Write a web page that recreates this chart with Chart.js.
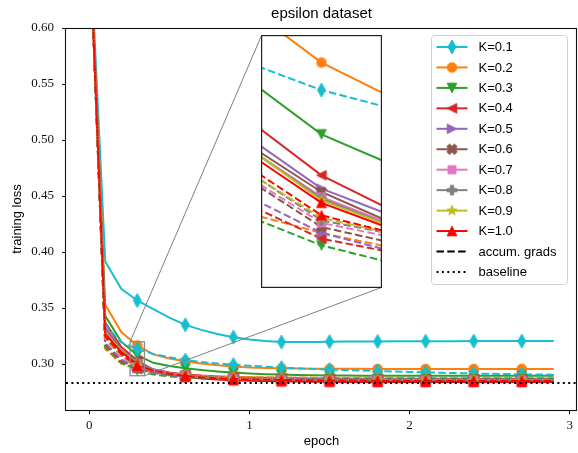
<!DOCTYPE html>
<html>
<head>
    <title>epsilon dataset</title>
    <meta charset="UTF-8">
    <style>
        body { margin: 0; background: #fff; }
        #wrap { position: relative; width: 578px; height: 453px; }
        #main { position: absolute; left: 0; top: 0; }
        #inset { position: absolute; }
    </style>
    <script src="https://cdn.jsdelivr.net/npm/chart.js@4.4.0/dist/chart.umd.min.js"></script>
</head>
<body>
    <div id="wrap">
        <canvas id="main" width="578" height="453"></canvas>
        <canvas id="inset"></canvas>
    </div>

    <script>
        // epochs at which the training loss was logged
        const epochs = [0, 0.1, 0.2, 0.3, 0.4, 0.5, 0.6, 0.7, 0.8, 0.9, 1.0, 1.1, 1.2, 1.3, 1.4,
                        1.5, 1.6, 1.7, 1.8, 1.9, 2.0, 2.1, 2.2, 2.3, 2.4, 2.5, 2.6, 2.7, 2.8, 2.9];

        const kLabels = ['K=0.1', 'K=0.2', 'K=0.3', 'K=0.4', 'K=0.5', 'K=0.6', 'K=0.7', 'K=0.8', 'K=0.9', 'K=1.0'];

        // top-K sparsified updates
        const lossK01 = [0.693, 0.3916, 0.3672, 0.3568, 0.3490, 0.3415, 0.3350, 0.3305, 0.3268, 0.3240, 0.3220, 0.3205, 0.3197, 0.3196, 0.3198, 0.3200, 0.3201, 0.3202, 0.3202, 0.3203, 0.3203, 0.3204, 0.3204, 0.3204, 0.3205, 0.3205, 0.3205, 0.3205, 0.3206, 0.3206];
        const lossK02 = [0.693, 0.3530, 0.3286, 0.3166, 0.3086, 0.3050, 0.3025, 0.3005, 0.2990, 0.2978, 0.2970, 0.2965, 0.2962, 0.2960, 0.2959, 0.2958, 0.2958, 0.2958, 0.2957, 0.2957, 0.2957, 0.2957, 0.2957, 0.2957, 0.2957, 0.2957, 0.2957, 0.2957, 0.2957, 0.2957];
        const lossK03 = [0.693, 0.3430, 0.3200, 0.3080, 0.3011, 0.2983, 0.2963, 0.2947, 0.2934, 0.2924, 0.2916, 0.2910, 0.2906, 0.2903, 0.2900, 0.2898, 0.2897, 0.2896, 0.2896, 0.2895, 0.2895, 0.2895, 0.2895, 0.2895, 0.2895, 0.2895, 0.2895, 0.2895, 0.2895, 0.2895];
        const lossK04 = [0.693, 0.3370, 0.3153, 0.3031, 0.2951, 0.2925, 0.2908, 0.2897, 0.2890, 0.2885, 0.2881, 0.2878, 0.2876, 0.2874, 0.2872, 0.2871, 0.2870, 0.2870, 0.2869, 0.2869, 0.2869, 0.2869, 0.2868, 0.2868, 0.2868, 0.2868, 0.2868, 0.2868, 0.2868, 0.2868];
        const lossK05 = [0.693, 0.3330, 0.3128, 0.3015, 0.2953, 0.2920, 0.2902, 0.2890, 0.2882, 0.2877, 0.2873, 0.2870, 0.2868, 0.2866, 0.2865, 0.2864, 0.2863, 0.2863, 0.2862, 0.2862, 0.2862, 0.2862, 0.2862, 0.2861, 0.2861, 0.2861, 0.2861, 0.2861, 0.2861, 0.2861];
        const lossK06 = [0.693, 0.3310, 0.3115, 0.3011, 0.2940, 0.2912, 0.2896, 0.2885, 0.2877, 0.2872, 0.2868, 0.2865, 0.2863, 0.2861, 0.2860, 0.2859, 0.2859, 0.2858, 0.2858, 0.2858, 0.2858, 0.2857, 0.2857, 0.2857, 0.2857, 0.2857, 0.2857, 0.2857, 0.2857, 0.2857];
        const lossK07 = [0.693, 0.3300, 0.3112, 0.3005, 0.2942, 0.2910, 0.2893, 0.2881, 0.2873, 0.2868, 0.2864, 0.2861, 0.2859, 0.2857, 0.2856, 0.2855, 0.2854, 0.2854, 0.2853, 0.2853, 0.2853, 0.2853, 0.2853, 0.2852, 0.2852, 0.2852, 0.2852, 0.2852, 0.2852, 0.2852];
        const lossK08 = [0.693, 0.3290, 0.3114, 0.3003, 0.2940, 0.2907, 0.2890, 0.2878, 0.2870, 0.2865, 0.2861, 0.2858, 0.2856, 0.2854, 0.2853, 0.2852, 0.2851, 0.2851, 0.2850, 0.2850, 0.2850, 0.2850, 0.2850, 0.2849, 0.2849, 0.2849, 0.2849, 0.2849, 0.2849, 0.2849];
        const lossK09 = [0.693, 0.3280, 0.3117, 0.3001, 0.2941, 0.2905, 0.2887, 0.2875, 0.2867, 0.2862, 0.2858, 0.2855, 0.2853, 0.2851, 0.2850, 0.2849, 0.2848, 0.2848, 0.2847, 0.2847, 0.2847, 0.2847, 0.2847, 0.2846, 0.2846, 0.2846, 0.2846, 0.2846, 0.2846, 0.2846];
        const lossK10 = [0.693, 0.3270, 0.3107, 0.2998, 0.2938, 0.2903, 0.2886, 0.2872, 0.2862, 0.2856, 0.2852, 0.2849, 0.2846, 0.2844, 0.2843, 0.2842, 0.2841, 0.2841, 0.2840, 0.2840, 0.2840, 0.2840, 0.2840, 0.2840, 0.2840, 0.2840, 0.2840, 0.2840, 0.2840, 0.2840];

        // same runs with accumulated gradients
        const accumK01 = [0.693, 0.3350, 0.3193, 0.3133, 0.3091, 0.3060, 0.3035, 0.3018, 0.3005, 0.2995, 0.2985, 0.2976, 0.2968, 0.2962, 0.2956, 0.2951, 0.2946, 0.2942, 0.2938, 0.2934, 0.2930, 0.2926, 0.2922, 0.2919, 0.2916, 0.2913, 0.2911, 0.2909, 0.2907, 0.2905];
        const accumK02 = [0.693, 0.3135, 0.3005, 0.2962, 0.2928, 0.2910, 0.2900, 0.2893, 0.2889, 0.2886, 0.2884, 0.2882, 0.2881, 0.2880, 0.2879, 0.2878, 0.2878, 0.2877, 0.2877, 0.2877, 0.2876, 0.2876, 0.2876, 0.2876, 0.2876, 0.2876, 0.2876, 0.2876, 0.2876, 0.2876];
        const accumK03 = [0.693, 0.3150, 0.3011, 0.2947, 0.2907, 0.2890, 0.2881, 0.2876, 0.2873, 0.2871, 0.2870, 0.2869, 0.2868, 0.2868, 0.2867, 0.2867, 0.2867, 0.2867, 0.2866, 0.2866, 0.2866, 0.2866, 0.2866, 0.2866, 0.2866, 0.2866, 0.2866, 0.2866, 0.2866, 0.2866];
        const accumK04 = [0.693, 0.3175, 0.3030, 0.2955, 0.2924, 0.2905, 0.2893, 0.2884, 0.2878, 0.2873, 0.2870, 0.2867, 0.2865, 0.2864, 0.2863, 0.2862, 0.2862, 0.2861, 0.2861, 0.2861, 0.2861, 0.2861, 0.2861, 0.2861, 0.2861, 0.2861, 0.2861, 0.2861, 0.2861, 0.2861];
        const accumK05 = [0.693, 0.3190, 0.3042, 0.2962, 0.2920, 0.2900, 0.2888, 0.2880, 0.2874, 0.2870, 0.2867, 0.2865, 0.2863, 0.2862, 0.2861, 0.2860, 0.2860, 0.2859, 0.2859, 0.2859, 0.2859, 0.2859, 0.2859, 0.2859, 0.2859, 0.2859, 0.2859, 0.2859, 0.2859, 0.2859];
        const accumK06 = [0.693, 0.3225, 0.3073, 0.2969, 0.2933, 0.2910, 0.2895, 0.2884, 0.2876, 0.2871, 0.2867, 0.2864, 0.2862, 0.2861, 0.2860, 0.2859, 0.2859, 0.2858, 0.2858, 0.2858, 0.2858, 0.2858, 0.2858, 0.2858, 0.2858, 0.2858, 0.2858, 0.2858, 0.2858, 0.2858];
        const accumK07 = [0.693, 0.3230, 0.3074, 0.2974, 0.2941, 0.2915, 0.2898, 0.2886, 0.2878, 0.2872, 0.2868, 0.2865, 0.2863, 0.2862, 0.2861, 0.2860, 0.2860, 0.2860, 0.2860, 0.2860, 0.2860, 0.2860, 0.2860, 0.2860, 0.2860, 0.2860, 0.2860, 0.2860, 0.2860, 0.2860];
        const accumK08 = [0.693, 0.3240, 0.3084, 0.2977, 0.2946, 0.2918, 0.2899, 0.2886, 0.2877, 0.2871, 0.2867, 0.2864, 0.2862, 0.2860, 0.2859, 0.2858, 0.2858, 0.2857, 0.2857, 0.2857, 0.2857, 0.2857, 0.2857, 0.2857, 0.2857, 0.2857, 0.2857, 0.2857, 0.2857, 0.2857];
        const accumK09 = [0.693, 0.3235, 0.3080, 0.2980, 0.2944, 0.2916, 0.2897, 0.2884, 0.2875, 0.2869, 0.2865, 0.2862, 0.2860, 0.2858, 0.2857, 0.2856, 0.2856, 0.2855, 0.2855, 0.2855, 0.2855, 0.2855, 0.2855, 0.2855, 0.2855, 0.2855, 0.2855, 0.2855, 0.2855, 0.2855];
        const accumK10 = [0.693, 0.3246, 0.3090, 0.2983, 0.2943, 0.2914, 0.2895, 0.2882, 0.2873, 0.2867, 0.2863, 0.2860, 0.2858, 0.2856, 0.2855, 0.2854, 0.2853, 0.2853, 0.2852, 0.2852, 0.2852, 0.2852, 0.2852, 0.2852, 0.2852, 0.2852, 0.2852, 0.2852, 0.2852, 0.2852];

        const baselineLoss = 0.283;

        const xTicks = [0, 1, 2, 3];
        const yTicks = [0.30, 0.35, 0.40, 0.45, 0.50, 0.55, 0.60];
        const xRange = [-0.145, 3.045];
        const yRange = [0.259, 0.60];

        // zoomed region shown in the inset
        const insetX = [0.255, 0.345];
        const insetY = [0.2896, 0.3199];
        const insetBox = { left: 261, top: 35, width: 121, height: 253 };

        const lossSolid = [lossK01, lossK02, lossK03, lossK04, lossK05, lossK06, lossK07, lossK08, lossK09, lossK10];
        const lossAccum = [accumK01, accumK02, accumK03, accumK04, accumK05, accumK06, accumK07, accumK08, accumK09, accumK10];

        const colors = ['#17becf', '#ff7f0e', '#2ca02c', '#d62728', '#9467bd',
                        '#8c564b', '#e377c2', '#7f7f7f', '#bcbd22', '#ff0000'];
        const shapes = ['thinDiamond', 'circle', 'triDown', 'triLeft', 'triRight',
                        'xFilled', 'square', 'plusFilled', 'star', 'triUp'];

        // markers every 0.3 epochs
        const markEvery = 3;

        const SANS = '"Liberation Sans", Arial, sans-serif';
        const SERIF = '"Liberation Serif", "Times New Roman", serif';

        // small offscreen canvases used as point styles
        function makeMarker(shape, color) {
            const s = 20;
            const c = document.createElement('canvas');
            c.width = s; c.height = s;
            const g = c.getContext('2d');
            g.translate(s / 2, s / 2);
            g.fillStyle = color;
            g.strokeStyle = color;
            g.lineWidth = 1;
            const poly = pts => {
                g.beginPath();
                g.moveTo(pts[0][0], pts[0][1]);
                for (let i = 1; i < pts.length; i++) g.lineTo(pts[i][0], pts[i][1]);
                g.closePath();
            };
            const r = 4.8;
            switch (shape) {
                case 'thinDiamond': poly([[0, -7], [4, 0], [0, 7], [-4, 0]]); break;
                case 'circle': g.beginPath(); g.arc(0, 0, r, 0, Math.PI * 2); break;
                case 'triDown': poly([[-r, -r], [r, -r], [0, r]]); break;
                case 'triUp': poly([[-r, r], [r, r], [0, -r]]); break;
                case 'triLeft': poly([[r, -r], [r, r], [-r, 0]]); break;
                case 'triRight': poly([[-r, -r], [-r, r], [r, 0]]); break;
                case 'square': poly([[-4, -4], [4, -4], [4, 4], [-4, 4]]); break;
                case 'plusFilled': {
                    const a = 1.7, b = 4.8;
                    poly([[-a, -b], [a, -b], [a, -a], [b, -a], [b, a], [a, a], [a, b], [-a, b], [-a, a], [-b, a], [-b, -a], [-a, -a]]);
                    break;
                }
                case 'xFilled': {
                    g.rotate(Math.PI / 4);
                    const a = 1.8, b = 5.3;
                    poly([[-a, -b], [a, -b], [a, -a], [b, -a], [b, a], [a, a], [a, b], [-a, b], [-a, a], [-b, a], [-b, -a], [-a, -a]]);
                    break;
                }
                case 'star': {
                    const pts = [];
                    for (let i = 0; i < 10; i++) {
                        const rad = i % 2 === 0 ? 5.3 : 2.1;
                        const ang = -Math.PI / 2 + i * Math.PI / 5;
                        pts.push([rad * Math.cos(ang), rad * Math.sin(ang)]);
                    }
                    poly(pts);
                    break;
                }
            }
            g.fill();
            g.stroke();
            return c;
        }

        const markers = colors.map((c, i) => makeMarker(shapes[i], c));

        function series(values) {
            return epochs.map((e, i) => ({ x: e, y: values[i] }));
        }

        function buildDatasets() {
            const sets = [];
            const add = (values, i, dashed) => sets.push({
                data: series(values),
                borderColor: colors[i],
                backgroundColor: colors[i],
                borderWidth: 2,
                borderDash: dashed ? [7.5, 3.3] : [],
                tension: 0,
                pointStyle: markers[i],
                pointRadius: ctx => (ctx.dataIndex > 0 && ctx.dataIndex % markEvery === 0) ? 5 : 0,
                pointHoverRadius: 0
            });
            lossSolid.forEach((v, i) => add(v, i, false));
            lossAccum.forEach((v, i) => add(v, i, true));
            sets.push({
                data: [{ x: xRange[0], y: baselineLoss }, { x: xRange[1], y: baselineLoss }],
                borderColor: '#000',
                borderWidth: 2,
                borderDash: [2, 3.4],
                pointRadius: 0
            });
            // later series are drawn on top
            sets.forEach((s, i) => { s.order = -i; });
            return sets;
        }

        // white background + frame around the plotting area
        const framePlugin = {
            id: 'frame',
            beforeDraw(chart) {
                const ctx = chart.ctx;
                ctx.save();
                ctx.fillStyle = '#fff';
                ctx.fillRect(0, 0, chart.width, chart.height);
                ctx.restore();
            },
            afterDraw(chart) {
                const a = chart.chartArea;
                const ctx = chart.ctx;
                ctx.save();
                ctx.strokeStyle = '#111';
                ctx.lineWidth = 1.1;
                ctx.strokeRect(Math.round(a.left) - 0.5, Math.round(a.top) + 0.5,
                               Math.round(a.right) - Math.round(a.left),
                               Math.round(a.bottom) - Math.round(a.top));
                ctx.restore();
            }
        };

        // rectangle marking the zoomed area and the two connector lines
        const zoomMarkPlugin = {
            id: 'zoomMark',
            afterDatasetsDraw(chart) {
                const xs = chart.scales.x, ys = chart.scales.y;
                const x0 = xs.getPixelForValue(insetX[0]), x1 = xs.getPixelForValue(insetX[1]);
                const y0 = ys.getPixelForValue(insetY[1]), y1 = ys.getPixelForValue(insetY[0]);
                const ctx = chart.ctx;
                ctx.save();
                ctx.strokeStyle = '#8c8c8c';
                ctx.lineWidth = 1.3;
                ctx.strokeRect(x0, y0, x1 - x0, y1 - y0);
                ctx.lineWidth = 1;
                ctx.strokeStyle = '#808080';
                ctx.beginPath();
                ctx.moveTo(insetBox.left + 0.5, insetBox.top + 0.5);
                ctx.lineTo(x0, y0);
                ctx.moveTo(insetBox.left + insetBox.width - 0.5, insetBox.top + insetBox.height - 0.5);
                ctx.lineTo(x1, y1);
                ctx.stroke();
                ctx.restore();
            }
        };

        // legend box in the upper right corner
        const legendPlugin = {
            id: 'boxLegend',
            afterDraw(chart) {
                const ctx = chart.ctx;
                const a = chart.chartArea;
                const w = 136, h = 249;
                const bx = a.right - 10 - w + 0.5, by = a.top + 7 + 0.5;
                ctx.save();
                ctx.beginPath();
                ctx.roundRect(bx, by, w, h, 3);
                ctx.fillStyle = 'rgba(255,255,255,0.8)';
                ctx.fill();
                ctx.strokeStyle = '#d0d0d0';
                ctx.lineWidth = 1;
                ctx.stroke();

                const rows = kLabels.map((t, i) => ({ text: t, color: colors[i], dash: [], marker: markers[i] }));
                rows.push({ text: 'accum. grads', color: '#000', dash: [7.5, 3.3], marker: null });
                rows.push({ text: 'baseline', color: '#000', dash: [2, 3.4], marker: null });

                const hx0 = bx + 5, hx1 = bx + 36, tx = bx + 47;
                ctx.font = '13px ' + SANS;
                ctx.textBaseline = 'middle';
                rows.forEach((r, i) => {
                    const ry = by + 11.5 + i * 20.45;
                    ctx.strokeStyle = r.color;
                    ctx.lineWidth = 2;
                    ctx.setLineDash(r.dash);
                    ctx.beginPath();
                    ctx.moveTo(hx0, ry);
                    ctx.lineTo(hx1, ry);
                    ctx.stroke();
                    ctx.setLineDash([]);
                    if (r.marker) {
                        const m = r.marker;
                        ctx.drawImage(m, (hx0 + hx1) / 2 - m.width / 2, ry - m.height / 2);
                    }
                    ctx.fillStyle = '#000';
                    ctx.fillText(r.text, tx, ry + 0.5);
                });
                ctx.restore();
            }
        };

        const tickGrid = { drawOnChartArea: false, drawTicks: true, tickLength: 4, tickColor: '#111', tickWidth: 1 };

        new Chart(document.getElementById('main'), {
            type: 'line',
            data: { datasets: buildDatasets() },
            options: {
                responsive: false,
                animation: false,
                events: [],
                layout: { padding: { left: 0, right: 1, top: 0, bottom: 0 } },
                plugins: {
                    legend: { display: false },
                    tooltip: { enabled: false },
                    title: {
                        display: true,
                        text: 'epsilon dataset',
                        fullSize: false,
                        color: '#000',
                        font: { family: SANS, size: 15, weight: 'normal', lineHeight: 1.2 },
                        padding: { top: 4.5, bottom: 5.5 }
                    }
                },
                scales: {
                    x: {
                        type: 'linear',
                        min: xRange[0],
                        max: xRange[1],
                        afterBuildTicks: s => { s.ticks = xTicks.map(v => ({ value: v })); },
                        afterFit: s => { s.height = 43; },
                        grid: tickGrid,
                        border: { display: false },
                        ticks: {
                            autoSkip: false,
                            maxRotation: 0,
                            padding: 4,
                            color: '#111',
                            font: { family: SERIF, size: 13 },
                            callback: v => String(v)
                        },
                        title: {
                            display: true,
                            text: 'epoch',
                            color: '#000',
                            font: { family: SANS, size: 13 },
                            padding: { top: 4, bottom: 4 }
                        }
                    },
                    y: {
                        type: 'linear',
                        min: yRange[0],
                        max: yRange[1],
                        afterBuildTicks: s => { s.ticks = yTicks.map(v => ({ value: v })); },
                        afterFit: s => { s.width = 66; },
                        grid: tickGrid,
                        border: { display: false },
                        ticks: {
                            autoSkip: false,
                            padding: 8,
                            color: '#111',
                            font: { family: SERIF, size: 13 },
                            callback: v => v.toFixed(2)
                        },
                        title: {
                            display: true,
                            text: 'training loss',
                            color: '#000',
                            font: { family: SANS, size: 13 },
                            padding: { top: 10, bottom: 4 }
                        }
                    }
                }
            },
            plugins: [framePlugin, zoomMarkPlugin, legendPlugin]
        });

        // inset axes
        const insetCanvas = document.getElementById('inset');
        insetCanvas.width = insetBox.width;
        insetCanvas.height = insetBox.height;
        insetCanvas.style.left = insetBox.left + 'px';
        insetCanvas.style.top = insetBox.top + 'px';

        const insetFrame = {
            id: 'insetFrame',
            beforeDraw(chart) {
                const ctx = chart.ctx;
                ctx.save();
                ctx.fillStyle = '#fff';
                ctx.fillRect(0, 0, chart.width, chart.height);
                ctx.restore();
            },
            afterDraw(chart) {
                const ctx = chart.ctx;
                ctx.save();
                ctx.strokeStyle = '#222';
                ctx.lineWidth = 1.2;
                ctx.strokeRect(0.6, 0.6, chart.width - 1.2, chart.height - 1.2);
                ctx.restore();
            }
        };

        new Chart(insetCanvas, {
            type: 'line',
            data: { datasets: buildDatasets() },
            options: {
                responsive: false,
                animation: false,
                events: [],
                layout: { padding: 0 },
                plugins: { legend: { display: false }, tooltip: { enabled: false } },
                scales: {
                    x: { type: 'linear', display: false, min: insetX[0], max: insetX[1] },
                    y: { type: 'linear', display: false, min: insetY[0], max: insetY[1] }
                }
            },
            plugins: [insetFrame]
        });
    </script>
</body>
</html>
